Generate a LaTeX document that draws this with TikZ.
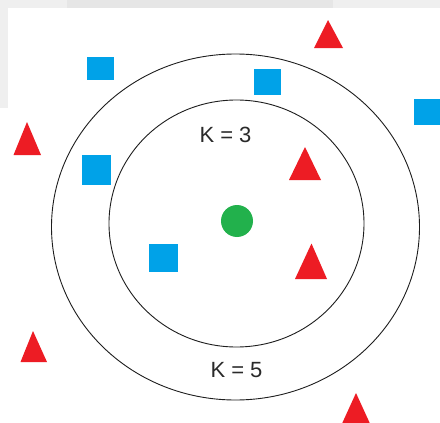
\documentclass[tikz,border=0pt]{standalone}
\usepackage{fontspec}
\setmainfont{Liberation Sans}
\definecolor{ClassRed}{HTML}{ED1C24}
\definecolor{ClassBlue}{HTML}{00A2E8}
\definecolor{QueryGreen}{HTML}{22B14C}
\definecolor{RingColor}{HTML}{1E1E1E}
\definecolor{LabelColor}{HTML}{2A2A2A}
\definecolor{EdgeGray}{HTML}{EFEFEF}
\definecolor{EdgeGrayDark}{HTML}{E6E6E6}
\tikzset{
  ring/.style={draw=RingColor, line width=0.9pt},
  klabel/.style={font=\fontsize{22}{24}\selectfont, text=LabelColor, inner sep=0pt}
}

\begin{document}
\begin{tikzpicture}[x=1pt, y=-1pt]
  \useasboundingbox (0,0) rectangle (440,423);
  \fill[white] (0,0) rectangle (440,423);
  % screenshot edge
  \fill[EdgeGray] (0,0) rectangle (440,7.5);
  \fill[EdgeGrayDark] (67,0) rectangle (333,7.5);
  \fill[EdgeGray] (0,7.5) rectangle (8,108);
  % neighbourhood rings
  \draw[ring] (236.5,223.5) ellipse [x radius=127.5, y radius=123.5];
  \draw[ring] (235.5,227) ellipse [x radius=184, y radius=173];
  \node[klabel] (k3) at (225.5,135) {K = 3};
  \node[klabel] (k5) at (236.5,370.5) {K = 5};
  % query point
  \fill[QueryGreen] (237,221) circle [radius=16];
  % blue class
  \fill[ClassBlue] (87,57) rectangle (114,80);
  \fill[ClassBlue] (254,69) rectangle (281,95);
  \fill[ClassBlue] (414,99) rectangle (441,125);
  \fill[ClassBlue] (82,155) rectangle (111,185);
  \fill[ClassBlue] (149,244) rectangle (178,272);
  % red class
  \fill[ClassRed] (328,20) -- (343,48) -- (314,48) -- cycle;
  \fill[ClassRed] (27,122) -- (41,155) -- (13.5,155) -- cycle;
  \fill[ClassRed] (305,147) -- (321,180) -- (289,180) -- cycle;
  \fill[ClassRed] (311.5,243.5) -- (327,279) -- (295,279) -- cycle;
  \fill[ClassRed] (33,331) -- (47,362) -- (20.5,362) -- cycle;
  \fill[ClassRed] (356,393) -- (372,428) -- (340,428) -- cycle;
\end{tikzpicture}
\end{document}
